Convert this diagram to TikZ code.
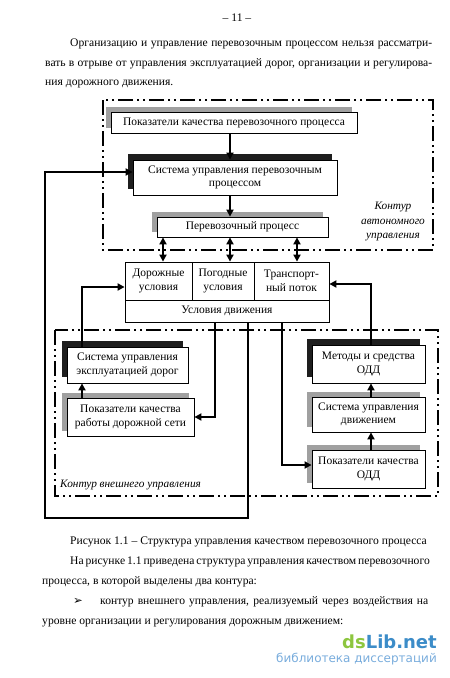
\documentclass[tikz,border=0pt]{standalone}
\usepackage{fontspec}
\setmainfont{Liberation Serif}
\newfontfamily\dvfont{DejaVu Sans}
\usetikzlibrary{arrows.meta,calc,shadows}
\definecolor{shgray}{RGB}{160,160,160}
\definecolor{shblack}{RGB}{30,30,30}
\definecolor{wmgreen}{RGB}{141,198,63}
\definecolor{wmblue}{RGB}{60,140,200}
\definecolor{wmlight}{RGB}{120,172,220}
\begin{document}
\begin{tikzpicture}[x=1pt,y=-1pt,
  box/.style={draw, line width=0.8pt, fill=white, inner sep=1pt, align=center,
    font=\fontsize{11.5}{13.5}\selectfont},
  gshadow/.style={drop shadow={shadow xshift=-5pt,shadow yshift=5pt,fill=shgray,opacity=1,draw=none}},
  bshadow/.style={drop shadow={shadow xshift=-5pt,shadow yshift=6pt,fill=shblack,opacity=1,draw=none}},
  cell/.style={draw, line width=0.8pt, fill=white, inner sep=1pt, align=center,
    font=\fontsize{11.5}{13.5}\selectfont},
  arr/.style={line width=2pt, -{Triangle[length=7pt,width=7pt]}},
  darr/.style={line width=2pt, {Triangle[length=7pt,width=7pt]}-{Triangle[length=7pt,width=7pt]}},
  contour/.style={line width=1.8pt, dash pattern=on 15pt off 4pt on 2pt off 4pt on 2pt off 4pt},
  body/.style={anchor=base west, inner sep=0pt, font=\fontsize{11.6}{13.5}\selectfont},
  lbl/.style={inner sep=0pt, font=\itshape\fontsize{11.3}{14.5}\selectfont},
]
\useasboundingbox (0,0) rectangle (450,678);

% page text
\node[body, anchor=base] (pnum) at (237,21) {-- 11 --};
\node[body] (t1) at (70,46) {\hbox to 362pt{Организацию и управление перевозочным процессом нельзя рассматри-}};
\node[body] (t2) at (45,66) {\hbox to 387pt{вать в отрыве от управления эксплуатацией дорог, организации и регулирова-}};
\node[body] (t3) at (45,85) {ния дорожного движения.};

% contours
\draw[contour] (103,100) rectangle (433,250);
\draw[contour] (55,330) rectangle (438,496);

% boxes
\node[box, gshadow, minimum width=246, minimum height=21] (pq) at (234,122.5) {Показатели качества перевозочного процесса};
\node[box, bshadow, minimum width=204, minimum height=35] (sup) at (235,177.5) {Система управления перевозочным\\процессом};
\node[box, gshadow, minimum width=171, minimum height=20] (pp) at (242.5,227) {Перевозочный процесс};

\node[cell, minimum width=67, minimum height=38] (dor) at (158.5,281) {Дорожные\\условия};
\node[cell, minimum width=62, minimum height=38] (pog) at (223,281) {Погодные\\условия};
\node[cell, minimum width=75, minimum height=38] (tp) at (291.5,281) {Транспорт-\\ный поток};
\node[cell, minimum width=204, minimum height=22] (ud) at (227,311) {Условия движения};

\node[box, bshadow, minimum width=121, minimum height=36] (sed) at (127.5,365) {Система управления\\эксплуатацией дорог};
\node[box, gshadow, minimum width=127, minimum height=38] (pkd) at (130.5,417) {Показатели качества\\работы дорожной сети};

\node[box, bshadow, minimum width=113, minimum height=38] (mso) at (368.5,364) {Методы и средства\\ОДД};
\node[box, gshadow, minimum width=113, minimum height=35] (sud) at (368.5,414.5) {Система управления\\движением};
\node[box, gshadow, minimum width=113, minimum height=38] (pko) at (368.5,469) {Показатели качества\\ОДД};

% contour labels
\node[lbl, align=center] (lauto) at (393,222) {Контур\\автономного\\управления};
\node[lbl, anchor=west] (lext) at (60,485) {Контур внешнего управления};

% helper coordinates
\coordinate (x82) at (82,0);
\coordinate (x163) at (163,0);
\coordinate (x215) at (215,0);
\coordinate (x230) at (230,0);
\coordinate (x248) at (248,0);
\coordinate (x282) at (282,0);
\coordinate (x297) at (297,0);
\coordinate (x371) at (371,0);
\coordinate (lb) at (45,518);

% connectors
\draw[arr] (pq.south -| x230) -- (sup.north -| x230);
\draw[arr] (sup.south -| x230) -- (pp.north -| x230);
\draw[darr] (pp.south -| x163) -- (dor.north -| x163);
\draw[darr] (pp.south -| x230) -- (pog.north -| x230);
\draw[darr] (pp.south -| x297) -- (tp.north -| x297);

\draw[arr] (sed.north -| x82) |- ([yshift=-6pt]dor.west);
\draw[arr] (pkd.north -| x82) -- (sed.south -| x82);
\draw[arr] (mso.north -| x371) |- ([yshift=-3pt]tp.east);
\draw[arr] (sud.north -| x371) -- (mso.south -| x371);
\draw[arr] (pko.north -| x371) -- (sud.south -| x371);

\draw[arr] (ud.south -| x215) |- (pkd.east);
\draw[arr] (ud.south -| x282) |- ([yshift=4pt]pko.west);
\draw[arr] (ud.south -| x248) |- (lb) |- ([yshift=5.5pt]sup.west);

% caption and following text
\node[body] (cap) at (70,544) {Рисунок 1.1 -- Структура управления качеством перевозочного процесса};
\node[body] (c1) at (70,564) {\hbox to 358pt{На рисунке 1.1 приведена структура управления качеством перевозочного}};
\node[body] (c2) at (42,584) {процесса, в которой выделены два контура:};
\node[body] (bul) at (73,604) {\dvfont ➢};
\node[body] (c3) at (100,604) {\hbox to 328pt{контур внешнего управления, реализуемый через воздействия на}};
\node[body] (c4) at (42,624) {уровне организации и регулирования дорожным движением:};

% watermark
\node[anchor=base east, inner sep=0pt, font=\dvfont\bfseries\fontsize{18}{18}\selectfont] (wm1) at (437,648) {\textcolor{wmgreen}{ds}\textcolor{wmblue}{Lib.net}};
\node[anchor=base east, inner sep=0pt, font=\dvfont\fontsize{12}{12}\selectfont, text=wmlight] (wm2) at (437,662) {библиотека диссертаций};
\end{tikzpicture}
\end{document}
